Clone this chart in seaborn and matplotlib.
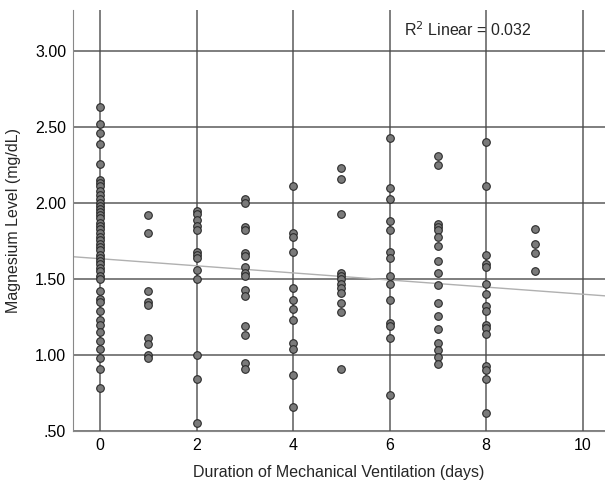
import seaborn as sns
import matplotlib.pyplot as plt
import numpy as np
import pandas as pd

# magnesium readings grouped by ventilation days
day0 = [2.63, 2.52, 2.46, 2.39, 2.26, 2.15, 2.13, 2.11, 2.08, 2.05, 2.03, 2.00, 1.98,
        1.96, 1.94, 1.92, 1.90, 1.87, 1.85, 1.83, 1.80, 1.78, 1.76, 1.73, 1.71, 1.69,
        1.66, 1.64, 1.62, 1.60, 1.57, 1.55, 1.52, 1.50, 1.42, 1.37, 1.35, 1.29, 1.23,
        1.20, 1.15, 1.09, 1.04, 0.98, 0.91, 0.78]
day1 = [1.92, 1.80, 1.42, 1.35, 1.33, 1.11, 1.07, 1.00, 0.98]
day2 = [1.95, 1.93, 1.89, 1.85, 1.82, 1.68, 1.66, 1.64, 1.56, 1.50, 1.00, 0.84, 0.55]
day3 = [2.03, 2.00, 1.84, 1.82, 1.67, 1.65, 1.58, 1.54, 1.52, 1.43, 1.39, 1.19, 1.13,
        0.95, 0.91]
day4 = [2.11, 1.80, 1.78, 1.68, 1.44, 1.36, 1.30, 1.23, 1.08, 1.04, 0.87, 0.66]
day5 = [2.23, 2.16, 1.93, 1.54, 1.52, 1.50, 1.47, 1.44, 1.41, 1.34, 1.28, 0.91]
day6 = [2.43, 2.10, 2.03, 1.88, 1.82, 1.68, 1.64, 1.52, 1.47, 1.36, 1.21, 1.19, 1.11, 0.74]
day7 = [2.31, 2.25, 1.86, 1.84, 1.82, 1.78, 1.72, 1.62, 1.54, 1.46, 1.34, 1.26, 1.17,
        1.08, 1.03, 0.99, 0.94]
day8 = [2.40, 2.11, 1.66, 1.60, 1.58, 1.47, 1.40, 1.32, 1.29, 1.20, 1.18, 1.14, 0.93,
        0.90, 0.84, 0.62]
day9 = [1.83, 1.73, 1.67, 1.55]

groups = [day0, day1, day2, day3, day4, day5, day6, day7, day8, day9]
days = [d for d, g in enumerate(groups) for _ in g]
mg = [v for g in groups for v in g]
df = pd.DataFrame({'days': days, 'mg': mg})

sns.set_style('white')
plt.rcParams['font.family'] = ['Liberation Sans', 'DejaVu Sans']

fig = plt.figure(figsize=(6.05, 4.83), dpi=100)
ax = fig.add_axes([0.1207, 0.1077, 0.8793, 0.8713])

ax.set_xlim(-0.56, 10.46)
ax.set_ylim(0.5, 3.27)
ax.set_xticks(range(0, 11, 2))
ax.set_yticks([0.5, 1.0, 1.5, 2.0, 2.5, 3.0])
ax.set_yticklabels(['.50', '1.00', '1.50', '2.00', '2.50', '3.00'])
ax.grid(True, color='#4a4a4a', linewidth=1.1, alpha=0.9)
ax.set_axisbelow(True)

sns.regplot(data=df, x='days', y='mg', ax=ax, scatter=False, ci=None, truncate=False,
            line_kws={'color': '#b0b0b0', 'linewidth': 1.0})
sns.scatterplot(data=df, x='days', y='mg', ax=ax, color='#7a7a7a', edgecolor='#2a2a2a',
                linewidth=0.8, s=30, zorder=3)

for side in ['top', 'right']:
    ax.spines[side].set_visible(False)
ax.spines['left'].set_color('#888888')
ax.spines['bottom'].set_color('#888888')
ax.tick_params(length=0, labelsize=11.5, colors='black', pad=5)

ax.set_xlabel('Duration of Mechanical Ventilation (days)', fontsize=11.5, labelpad=9)
ax.set_ylabel('Magnesium Level (mg/dL)', fontsize=11.5, labelpad=10)

ax.text(0.622, 0.975, 'R$^{2}$ Linear = 0.032', transform=ax.transAxes, fontsize=11.5,
        va='top', ha='left')

fig.savefig('out.png', dpi=100)
